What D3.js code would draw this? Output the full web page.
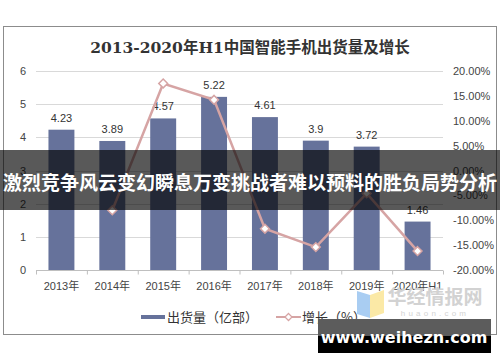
<!DOCTYPE html>
<html>
<head>
<meta charset="utf-8">
<script src="https://cdn.jsdelivr.net/npm/d3@7"></script>
<style>
  body { margin: 0; background: #fff; }
  svg { display: block; }
</style>
</head>
<body>
<script>
const categories = ["2013年", "2014年", "2015年", "2016年", "2017年", "2018年", "2019年", "2020年H1"];
const shipments = [4.23, 3.89, 4.57, 5.22, 4.61, 3.9, 3.72, 1.46];
const growth = [null, -8.0, 17.5, 14.2, -11.7, -15.4, -4.6, -16.2];
const leftTicks = [0, 1, 2, 3, 4, 5, 6];
const rightTicks = [20, 15, 10, 5, 0, -5, -10, -15, -20];

const width = 500;
const height = 362;
const plot = { left: 36, right: 443, top: 71, bottom: 270 };

const barColor = "#66729b";
const lineColor = "#d6a4a4";
const font = "'Liberation Sans', Arial, 'Noto Sans CJK SC', sans-serif";
const cjk = "'Noto Sans CJK SC', sans-serif";

const svg = d3.select("body").append("svg")
  .attr("width", width)
  .attr("height", height);

// frame
svg.append("rect")
  .attr("x", 3.5).attr("y", 26.5)
  .attr("width", 493).attr("height", 308)
  .attr("fill", "#fff")
  .attr("stroke", "#8c8c8c");

svg.append("text")
  .attr("x", 250).attr("y", 53)
  .attr("text-anchor", "middle")
  .style("font-family", "'DejaVu Serif', 'Liberation Serif', 'Noto Sans CJK SC', serif")
  .style("font-size", "15.5px")
  .style("font-weight", "bold")
  .attr("fill", "#333")
  .text("2013-2020年H1中国智能手机出货量及增长");

const x = d3.scaleBand()
  .domain(categories)
  .range([plot.left, plot.right])
  .paddingInner(0.49)
  .paddingOuter(0.245);

const y = d3.scaleLinear().domain([0, 6]).range([plot.bottom, plot.top]);
const y2 = d3.scaleLinear().domain([-20, 20]).range([plot.bottom, plot.top]);

// gridlines
svg.append("g")
  .selectAll("line")
  .data(leftTicks.filter((d) => d > 0))
  .join("line")
  .attr("x1", plot.left).attr("x2", plot.right)
  .attr("y1", (d) => Math.round(y(d)) + 0.5)
  .attr("y2", (d) => Math.round(y(d)) + 0.5)
  .attr("stroke", "#d9d9d9");

// left axis labels
svg.append("g")
  .selectAll("text")
  .data(leftTicks)
  .join("text")
  .attr("x", 23).attr("y", (d) => y(d) + 4)
  .attr("text-anchor", "middle")
  .style("font-family", font)
  .style("font-size", "11px")
  .attr("fill", "#444")
  .text((d) => d);

// right axis labels
svg.append("g")
  .selectAll("text")
  .data(rightTicks)
  .join("text")
  .attr("x", 453).attr("y", (d) => y2(d) + 4)
  .style("font-family", font)
  .style("font-size", "11px")
  .attr("fill", "#444")
  .text((d) => d.toFixed(2) + "%");

// bars
svg.append("g")
  .selectAll("rect")
  .data(shipments)
  .join("rect")
  .attr("x", (d, i) => x(categories[i]))
  .attr("y", (d) => y(d))
  .attr("width", x.bandwidth())
  .attr("height", (d) => y(0) - y(d))
  .attr("fill", barColor);

// bar labels
svg.append("g")
  .selectAll("text")
  .data(shipments)
  .join("text")
  .attr("x", (d, i) => x(categories[i]) + x.bandwidth() / 2)
  .attr("y", (d) => y(d) - 8)
  .attr("text-anchor", "middle")
  .style("font-family", font)
  .style("font-size", "11px")
  .attr("fill", "#333")
  .text((d) => d);

// bottom axis
const xAxis = svg.append("g")
  .attr("transform", `translate(0,${plot.bottom + 0.5})`);
xAxis.append("line")
  .attr("x1", plot.left).attr("x2", plot.right)
  .attr("stroke", "#bfbfbf");
xAxis.selectAll(".tick")
  .data(d3.range(categories.length + 1))
  .join("line")
  .attr("x1", (i) => plot.left + i * x.step() + 0.5)
  .attr("x2", (i) => plot.left + i * x.step() + 0.5)
  .attr("y1", 0).attr("y2", 4)
  .attr("stroke", "#bfbfbf");
xAxis.selectAll("text")
  .data(categories)
  .join("text")
  .attr("x", (d) => x(d) + x.bandwidth() / 2)
  .attr("y", 19)
  .attr("text-anchor", "middle")
  .style("font-family", font)
  .style("font-size", "11px")
  .attr("fill", "#444")
  .text((d) => d);

// growth line
const pts = growth
  .map((g, i) => ({ c: categories[i], g }))
  .filter((d) => d.g !== null);

svg.append("path")
  .datum(pts)
  .attr("fill", "none")
  .attr("stroke", lineColor)
  .attr("stroke-width", 2.5)
  .attr("d", d3.line()
    .x((d) => x(d.c) + x.bandwidth() / 2)
    .y((d) => y2(d.g)));

const diamond = d3.symbol().type(d3.symbolDiamond2).size(50);
svg.append("g")
  .selectAll("path")
  .data(pts)
  .join("path")
  .attr("transform", (d) => `translate(${x(d.c) + x.bandwidth() / 2},${y2(d.g)})`)
  .attr("d", diamond)
  .attr("fill", "#fff")
  .attr("stroke", lineColor)
  .attr("stroke-width", 1.5);

// legend
const legend = svg.append("g").attr("transform", "translate(0,317)");
legend.append("rect")
  .attr("x", 141).attr("y", -2)
  .attr("width", 24).attr("height", 4)
  .attr("fill", barColor);
legend.append("text")
  .attr("x", 167).attr("y", 5)
  .style("font-family", cjk)
  .style("font-size", "13px")
  .attr("fill", "#333")
  .text("出货量（亿部）");
legend.append("line")
  .attr("x1", 276).attr("x2", 301)
  .attr("stroke", lineColor)
  .attr("stroke-width", 2);
legend.append("path")
  .attr("transform", "translate(288.5,0)")
  .attr("d", d3.symbol().type(d3.symbolDiamond2).size(32))
  .attr("fill", "#fff")
  .attr("stroke", lineColor)
  .attr("stroke-width", 1.2);
legend.append("text")
  .attr("x", 302).attr("y", 5)
  .style("font-family", cjk)
  .style("font-size", "13px")
  .attr("fill", "#333")
  .text("增长（%）");

// watermark logo
const wm = svg.append("g");
wm.append("path")
  .attr("d", "M357,291 L370,295 L370,318 L357,314 Z")
  .attr("fill", "#a9cdf2");
wm.append("path")
  .attr("d", "M370,295 L384,290 L384,313 L370,318 Z")
  .attr("fill", "#fbe9a6");
wm.append("text")
  .attr("x", 435).attr("y", 304)
  .attr("text-anchor", "middle")
  .style("font-family", cjk)
  .style("font-size", "19px")
  .style("font-weight", "bold")
  .attr("fill", "#d2d2d2")
  .text("华经情报网");
wm.append("text")
  .attr("x", 435).attr("y", 316)
  .attr("text-anchor", "middle")
  .style("font-family", font)
  .style("font-size", "8px")
  .style("letter-spacing", "3.2px")
  .attr("fill", "#d2d2d2")
  .text("huaon.com");

// overlay banner
svg.append("rect")
  .attr("x", 0).attr("y", 150)
  .attr("width", width).attr("height", 60)
  .attr("fill", "#000")
  .attr("fill-opacity", 0.65);
svg.append("text")
  .attr("x", 250).attr("y", 190)
  .attr("text-anchor", "middle")
  .attr("textLength", 494)
  .attr("lengthAdjust", "spacingAndGlyphs")
  .style("font-family", cjk)
  .style("font-size", "19px")
  .style("font-weight", "bold")
  .attr("fill", "#fff")
  .text("激烈竞争风云变幻瞬息万变挑战者难以预料的胜负局势分析");

// site badge
svg.append("rect")
  .attr("x", 318).attr("y", 319)
  .attr("width", 173).attr("height", 34)
  .attr("fill", "#000");
svg.append("rect")
  .attr("x", 318).attr("y", 319)
  .attr("width", 173).attr("height", 17)
  .attr("fill", "#5c5c5c");
svg.append("text")
  .attr("x", 404).attr("y", 343)
  .attr("text-anchor", "middle")
  .style("font-family", "'DejaVu Sans', sans-serif")
  .style("font-size", "16px")
  .style("font-weight", "bold")
  .attr("fill", "#fff")
  .text("www.weihezn.com");
</script>
</body>
</html>
